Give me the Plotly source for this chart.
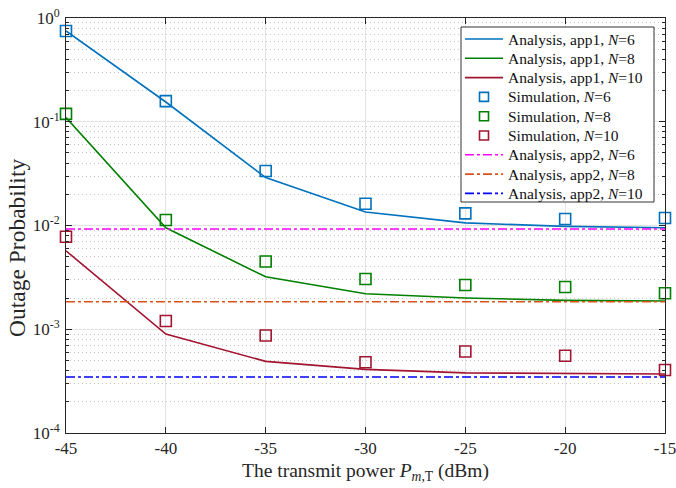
import plotly.graph_objects as go

power = [-45, -40, -35, -30, -25, -20, -15]

app1_N6 = [0.75, 0.155, 0.029, 0.0135, 0.0106, 0.0098, 0.0095]
app1_N8 = [0.11, 0.0095, 0.0032, 0.0022, 0.0020, 0.0019, 0.00187]
app1_N10 = [0.0057, 0.0009, 0.00049, 0.00041, 0.00038, 0.000375, 0.00037]

sim_N6 = [0.75, 0.158, 0.0335, 0.0162, 0.0131, 0.01155, 0.0118]
sim_N8 = [0.119, 0.0113, 0.0045, 0.00305, 0.00267, 0.00255, 0.00222]
sim_N10 = [0.0078, 0.0012, 0.00087, 0.00048, 0.00061, 0.000556, 0.000405]

app2_N6 = 0.00925
app2_N8 = 0.00184
app2_N10 = 0.000347

c_blue = "#0072BD"
c_green = "#008000"
c_red = "#A2142F"
c_mag = "#FF00FF"
c_orange = "#D95319"
c_dblue = "#0000FF"

W, H = 676, 488
ML, MR, MT, MB = 66, 11, 18, 55
PW, PH = W - ML - MR, H - MT - MB


def px(xp):
    return (xp - ML) / PW


def py(yp):
    return (H - MB - yp) / PH


fig = go.Figure()
entries = []
for y, c, n in [(app1_N6, c_blue, 6), (app1_N8, c_green, 8), (app1_N10, c_red, 10)]:
    name = f"Analysis, app1, <i>N</i>={n}"
    fig.add_trace(go.Scatter(x=power, y=y, mode="lines", line=dict(color=c, width=1.6), name=name))
    entries.append((name, c, "line", "solid"))
for y, c, n in [(sim_N6, c_blue, 6), (sim_N8, c_green, 8), (sim_N10, c_red, 10)]:
    name = f"Simulation, <i>N</i>={n}"
    fig.add_trace(go.Scatter(x=power, y=y, mode="markers", cliponaxis=False,
                             marker=dict(symbol="square-open", size=11, color=c, line=dict(width=1.6, color=c)),
                             name=name))
    entries.append((name, c, "square", None))
for v, c, n in [(app2_N6, c_mag, 6), (app2_N8, c_orange, 8), (app2_N10, c_dblue, 10)]:
    name = f"Analysis, app2, <i>N</i>={n}"
    fig.add_trace(go.Scatter(x=power, y=[v] * len(power), mode="lines",
                             line=dict(color=c, width=1.6, dash="dashdot"), name=name))
    entries.append((name, c, "line", "dashdot"))

font = "Liberation Serif, Times New Roman, serif"

# manual legend (matches the reference's compact legend box)
shapes = [dict(type="rect", xref="paper", yref="paper", x0=px(461), x1=px(654), y0=py(202), y1=py(27),
               line=dict(color="#333", width=1), fillcolor="white", layer="above")]
annotations = []
for i, (name, c, kind, dash) in enumerate(entries):
    yc = 39 + i * 19.3
    if kind == "line":
        shapes.append(dict(type="line", xref="paper", yref="paper", x0=px(465), x1=px(503),
                           y0=py(yc), y1=py(yc), line=dict(color=c, width=1.6, dash=dash), layer="above"))
    else:
        shapes.append(dict(type="rect", xref="paper", yref="paper", x0=px(479.5), x1=px(488.5),
                           y0=py(yc + 4.5), y1=py(yc - 4.5), line=dict(color=c, width=1.6), layer="above"))
    annotations.append(dict(text=name, xref="paper", yref="paper", x=px(506), y=py(yc),
                            xanchor="left", yanchor="middle", showarrow=False,
                            font=dict(family=font, size=15.5, color="#111")))

# y-axis title (placed like the reference)
annotations.append(dict(text="Outage Probability", xref="paper", yref="paper", x=px(17), y=py(248),
                        xanchor="center", yanchor="middle", textangle=-90, showarrow=False,
                        font=dict(family=font, size=23.5, color="#262626")))

fig.update_layout(
    width=W, height=H,
    margin=dict(l=ML, r=MR, t=MT, b=MB, autoexpand=False),
    paper_bgcolor="white", plot_bgcolor="white",
    font=dict(family=font, size=17, color="#262626"),
    showlegend=False,
    shapes=shapes, annotations=annotations,
)
fig.update_xaxes(
    range=[-45.0001, -14.9999], tickvals=power, ticktext=[str(p) for p in power],
    ticklabeloverflow="allow", automargin=False,
    showline=True, linecolor="#262626", linewidth=1, mirror="ticks",
    ticks="inside", ticklen=6, tickcolor="#262626",
    showgrid=True, gridcolor="#E3E3E3", gridwidth=1, zeroline=False,
    title=dict(text="The transmit power <i>P</i><sub><i>m</i>,T</sub> (dBm)", font=dict(size=19.5), standoff=5),
    tickfont=dict(size=17),
)
fig.update_yaxes(
    type="log", range=[-4, 0],
    tickvals=[1e-4, 1e-3, 1e-2, 1e-1, 1],
    ticktext=["10<sup>-4</sup>", "10<sup>-3</sup>", "10<sup>-2</sup>", "10<sup>-1</sup>", "10<sup>0</sup>"],
    ticklabelstandoff=2, automargin=False,
    showline=True, linecolor="#262626", linewidth=1, mirror="ticks",
    ticks="inside", ticklen=6, tickcolor="#262626",
    showgrid=True, gridcolor="#E3E3E3", gridwidth=1, zeroline=False,
    minor=dict(ticks="inside", ticklen=3, tickcolor="#262626", showgrid=True,
               gridcolor="#C4C4C4", griddash="1px,3px", gridwidth=1, dtick="D1"),
    tickfont=dict(size=17),
)
fig.write_html("out.html", config={"displayModeBar": False},
               post_script="document.body.style.margin='0px';")
